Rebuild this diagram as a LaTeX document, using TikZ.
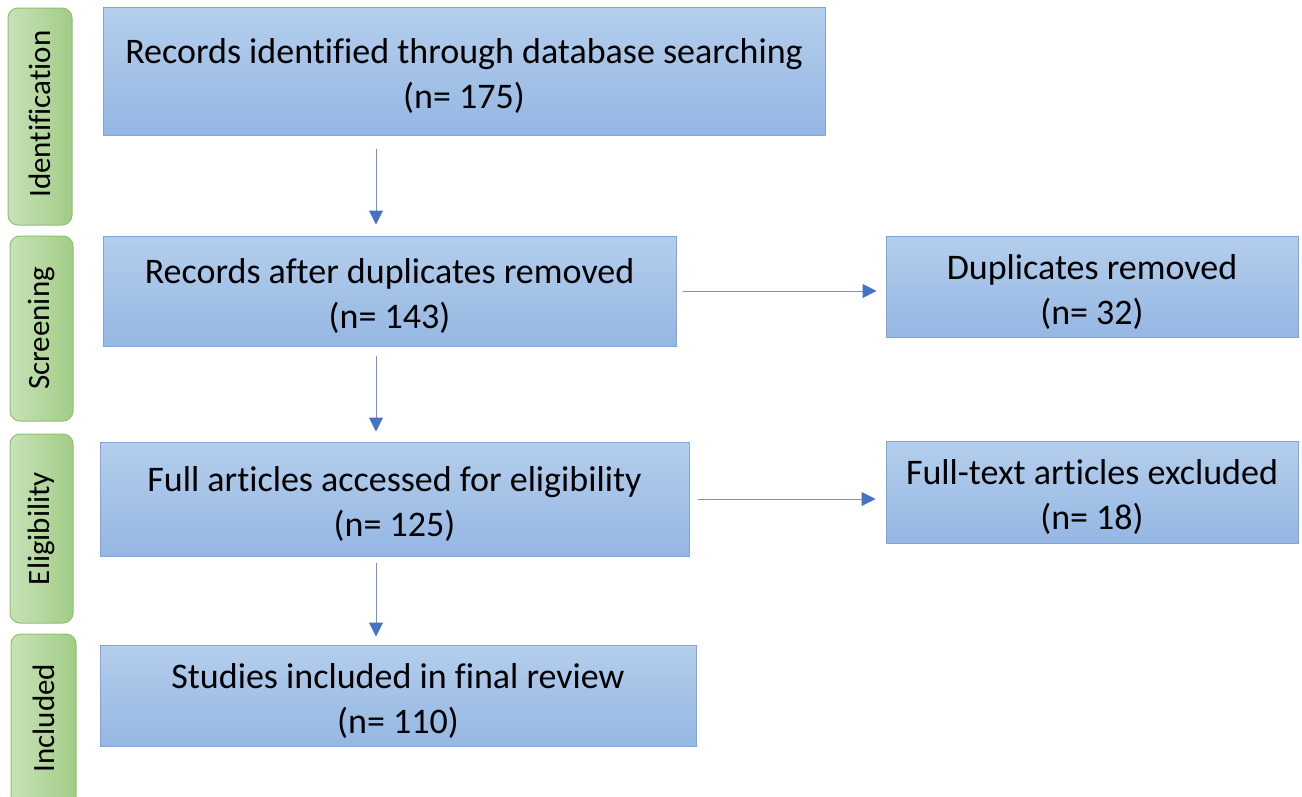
\documentclass[tikz,border=0pt]{standalone}
\usepackage{fontspec}
\setmainfont{Carlito}[Ligatures=NoCommon]
\usetikzlibrary{arrows.meta,calc}
\definecolor{boxtop}{HTML}{B4CEEC}
\definecolor{boxbot}{HTML}{95B7E3}
\definecolor{boxline}{HTML}{7FA6DA}
\definecolor{grleft}{HTML}{C8E2B8}
\definecolor{grright}{HTML}{A2CC86}
\definecolor{grline}{HTML}{8DC26E}
\definecolor{arrcol}{HTML}{4472C4}
\definecolor{arrline}{HTML}{6F93D3}
\tikzset{
  flowbox/.style={draw=boxline, line width=1pt, top color=boxtop, bottom color=boxbot,
    rectangle, inner sep=0pt},
  flowtext/.style={align=center, inner sep=0pt, yshift=-5pt, font=\fontsize{36}{45}\selectfont},
  stagebox/.style={draw=grline, line width=1pt, left color=grleft, right color=grright,
    rectangle, rounded corners=10pt, inner sep=0pt},
  stagetext/.style={rotate=90, font=\fontsize{31}{34}\selectfont},
  flowarr/.style={draw=arrline, line width=1pt, -{Triangle[length=14pt,width=14pt,color=arrcol]}}
}
\begin{document}
\begin{tikzpicture}[x=1pt,y=-1pt]
\fill[white] (0,0) rectangle (1302,796);
\useasboundingbox (0,0) rectangle (1302,796);
\begin{scope}
\clip (0,0) rectangle (1302,796);
% stage labels
\node[stagebox, minimum width=64pt, minimum height=217pt] (s1) at (40,116.5) {};
\node[stagetext] (t1) at (40,114) {Identification};
\node[stagebox, minimum width=63pt, minimum height=185pt] (s2) at (41.5,328.5) {};
\node[stagetext] (t2) at (s2.center) {Screening};
\node[stagebox, minimum width=63pt, minimum height=189pt] (s3) at (41.5,528.5) {};
\node[stagetext] (t3) at (s3.center) {Eligibility};
\node[stagebox, minimum width=65pt, minimum height=180pt] (s4) at (43.5,724) {};
\node[stagetext] (t4) at (43.5,718) {Included};
\end{scope}
% flow boxes
\node[flowbox, minimum width=722pt, minimum height=128pt] (b1) at (464,71) {};
\node[flowtext] (l1) at (b1.center) {Records identified through database searching\\(n= 175)};
\node[flowbox, minimum width=573pt, minimum height=110pt] (b2) at (389.5,291) {};
\node[flowtext] (l2) at (b2.center) {Records after duplicates removed\\(n= 143)};
\node[flowbox, minimum width=412pt, minimum height=101pt] (b3) at (1092,286.5) {};
\node[flowtext] (l3) at (b3.center) {Duplicates removed\\(n= 32)};
\node[flowbox, minimum width=589pt, minimum height=114pt] (b4) at (394.5,499) {};
\node[flowtext] (l4) at (b4.center) {Full articles accessed for eligibility\\(n= 125)};
\node[flowbox, minimum width=412pt, minimum height=102pt] (b5) at (1092,492) {};
\node[flowtext] (l5) at (b5.center) {Full-text articles excluded\\(n= 18)};
\node[flowbox, minimum width=596pt, minimum height=101pt] (b6) at (398,695.5) {};
\node[flowtext] (l6) at (b6.center) {Studies included in final review\\(n= 110)};
% arrows
\coordinate (ax) at (376,0);
\draw[flowarr, shorten <=13pt, shorten >=11pt] (b1.south -| ax) -- (b2.north -| ax);
\draw[flowarr, shorten <=9pt, shorten >=10pt] (b2.south -| ax) -- (b4.north -| ax);
\draw[flowarr, shorten <=6pt, shorten >=8pt] (b4.south -| ax) -- (b6.north -| ax);
\draw[flowarr, shorten <=6pt, shorten >=9pt] (b2.east) -- (b2.east -| b3.west);
\draw[flowarr, shorten <=8pt, shorten >=10pt] (b4.east) -- (b4.east -| b5.west);
\end{tikzpicture}
\end{document}
